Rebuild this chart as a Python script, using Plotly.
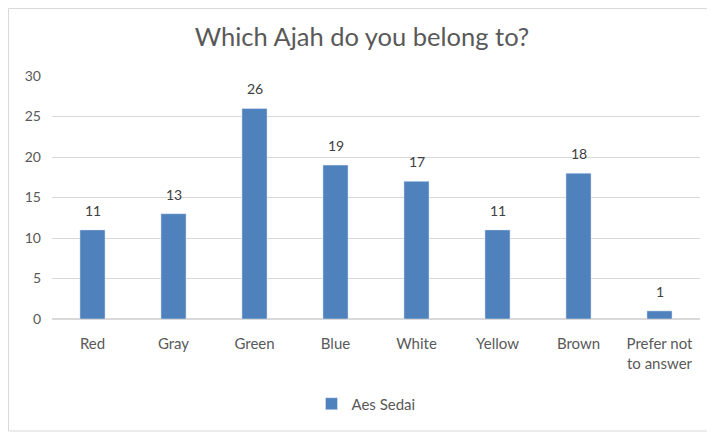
import plotly.graph_objects as go

categories = ["Red", "Gray", "Green", "Blue", "White", "Yellow", "Brown", "Prefer not<br>to answer"]
values = [11, 13, 26, 19, 17, 11, 18, 1]
series_name = "Aes Sedai"
title = "Which Ajah do you belong to?"

OFF = 8  # default page body margin
W, H = 715 - OFF, 433 - OFF
# reference pixel positions (page coords)
PL, PR, PT, PB = 52, 700, 76, 319
L, T = PL - OFF, PT - OFF
R = W - (PR - OFF)
B = H - (PB - OFF)
pw, ph = W - L - R, H - T - B

def px_x(x):
    return (x - OFF - L) / pw

def px_y(y):
    return (H - B - (y - OFF)) / ph

fig = go.Figure()
fig.add_trace(go.Bar(
    x=categories, y=values, name=series_name,
    marker=dict(color="#4f81bd"),
    showlegend=True,
))

annotations = [
    dict(x=c, y=v, xref="x", yref="y", text=str(v), showarrow=False,
         yanchor="bottom", yshift=9, font=dict(color="#404040", size=14, family="Lato"))
    for c, v in zip(categories, values)
]

border = dict(color="#d9d9d9", width=1)
bx0, bx1, by0, by1 = px_x(8.5), px_x(712), px_y(431), px_y(8.5)

fig.update_layout(
    width=W, height=H,
    margin=dict(l=L, r=R, t=T, b=B),
    paper_bgcolor="white", plot_bgcolor="white",
    font=dict(family="Lato", color="#595959", size=14),
    title=dict(text=title, x=px_x(362), xanchor="center", xref="paper",
               y=1 - (37 - OFF) / H, yanchor="middle",
               font=dict(size=25.5, color="#595959", family="Lato")),
    bargap=0.69,
    showlegend=True,
    legend=dict(orientation="h", x=px_x(366), xanchor="center", y=px_y(404), yanchor="middle",
                font=dict(size=15, color="#595959"), itemwidth=30),
    annotations=annotations,
    xaxis=dict(showgrid=False, showline=False, ticks="", tickfont=dict(size=15, color="#595959"),
               ticklabelstandoff=14),
    yaxis=dict(range=[0, 30], dtick=5, showgrid=True, gridcolor="#d9d9d9", gridwidth=1,
               zeroline=True, zerolinecolor="#d9d9d9", showline=False, ticks="",
               tickfont=dict(size=14, color="#595959"), ticklabelstandoff=10),
    shapes=[
        dict(type="line", xref="paper", yref="paper", x0=bx0, x1=bx0, y0=by0, y1=by1, line=border, layer="below"),
        dict(type="line", xref="paper", yref="paper", x0=bx0, x1=bx1, y0=by1, y1=by1, line=border, layer="below"),
        dict(type="line", xref="paper", yref="paper", x0=bx0, x1=bx1, y0=by0, y1=by0, line=border, layer="below"),
    ],
)

fig.write_html("out.html")
